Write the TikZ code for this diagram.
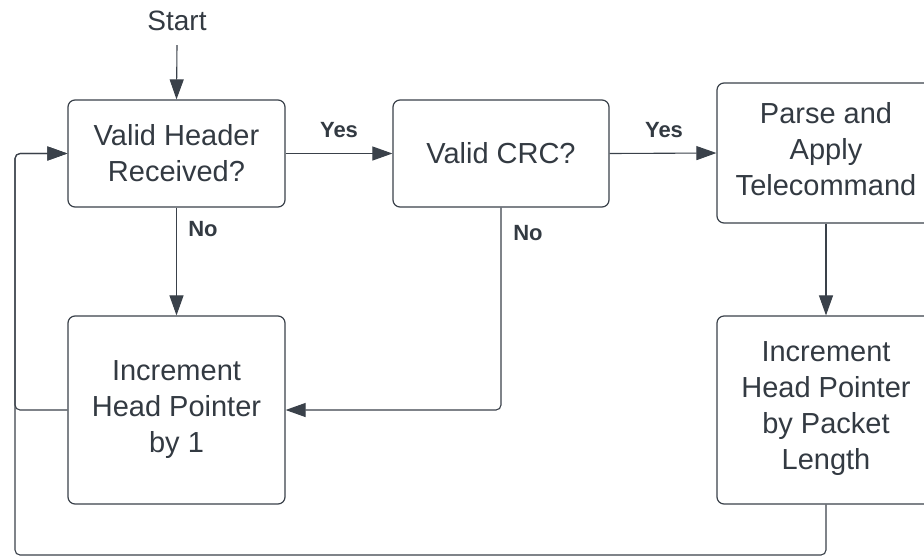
\documentclass[tikz,border=0pt]{standalone}
\usepackage{fontspec}
\setmainfont{Liberation Sans}
\usetikzlibrary{arrows.meta}
\definecolor{ink}{HTML}{3A414A}
\definecolor{txt}{HTML}{333A42}
\tikzset{
  x=1pt, y=-1pt,
  boxtext/.style={align=center, text=txt, font=\fontsize{29}{36}\selectfont},
  box/.style={draw=ink, line width=1.2pt, rounded corners=7pt, fill=white,
    inner sep=0pt, boxtext},
  conn/.style={draw=ink, line width=1.1pt, rounded corners=5pt},
  arr/.style={conn, -{Triangle[length=20pt,width=14pt]}},
  lbl/.style={text=txt, font=\fontsize{22}{24}\selectfont\bfseries},
}
\begin{document}
\begin{tikzpicture}
  \useasboundingbox (0,0) rectangle (924,558);
  \clip (0,0) rectangle (924,558);

  % process boxes
  \node[box, minimum width=217pt, minimum height=107pt] (A) at (176.5,153.5) {Valid Header\\Received?};
  \node[box, minimum width=216pt, minimum height=107pt] (B) at (501,153.5) {Valid CRC?};
  \node[box, minimum width=218pt, minimum height=140pt,
        label={[boxtext, yshift=4pt]center:{Parse and\\Apply\\Telecommand}}] (C) at (826,153) {};
  \node[box, minimum width=217pt, minimum height=188pt] (D) at (176.5,410) {Increment\\Head Pointer\\by 1};
  \node[box, minimum width=218pt, minimum height=188pt,
        label={[boxtext, yshift=1pt]center:{Increment\\Head Pointer\\by Packet\\Length}}] (E) at (826,410) {};

  % entry point
  \node[text=txt, font=\fontsize{28}{32}\selectfont] (start) at (177,21) {Start};
  \coordinate (startend) at (177,45);
  \draw[arr] (startend) -- (A.north);

  % decisions
  \draw[arr] (A.east) -- (B.west);
  \node[lbl] (yes1) at (339,130) {Yes};
  \draw[arr] (B.east) -- (C.west);
  \node[lbl] (yes2) at (664,130) {Yes};
  \draw[arr] (A.south) -- (D.north);
  \node[lbl] (no1) at (203,229) {No};
  \draw[arr] (B.south) |- (D.east);
  \node[lbl] (no2) at (528,233) {No};
  \draw[arr] (C.south) -- (E.north);

  % loops back to the header check
  \coordinate (loopD) at (15,410);
  \coordinate (bot) at (15,555);
  \draw[arr] (D.west) -- (loopD) |- (A.west);
  \draw[arr] (E.south) |- (bot) |- (A.west);
\end{tikzpicture}
\end{document}
